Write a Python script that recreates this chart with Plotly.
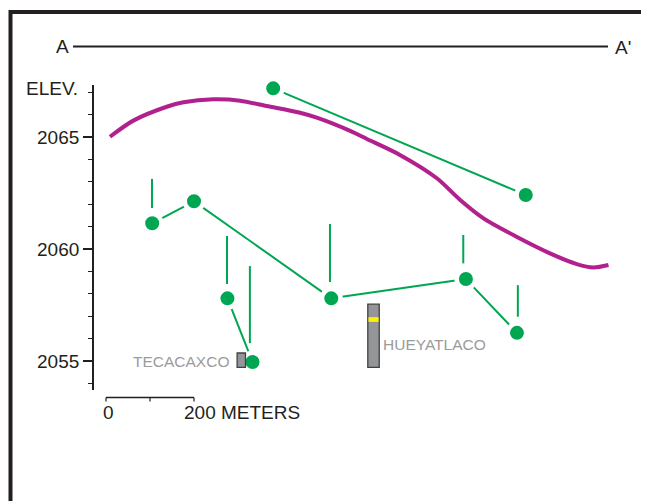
import plotly.graph_objects as go

# ---------------- data (distance along section in metres, elevation in m) -------------
site_dist = [105, 200, 276, 512, 333, 818, 934, 380, 954]
site_elev = [2061.15, 2062.13, 2057.80, 2057.80, 2054.96, 2058.66, 2056.26, 2067.17, 2062.41]
site_links = [(0, 1), (1, 3), (2, 4), (3, 5), (5, 6), (7, 8)]

range_dist = [104.5, 275, 327, 509, 812, 936]
range_top = [2063.13, 2060.58, 2059.24, 2061.12, 2060.63, 2058.39]
range_bottom = [2061.83, 2058.44, 2055.80, 2058.53, 2059.36, 2056.98]

profile_dist = [9, 62, 138, 176, 244, 305, 365, 441, 479, 555, 593, 668, 752, 805,
                858, 933, 1009, 1070, 1108, 1142]
profile_elev = [2065.01, 2065.73, 2066.35, 2066.55, 2066.68, 2066.62, 2066.38, 2066.08,
                2065.86, 2065.27, 2064.91, 2064.20, 2063.16, 2062.19, 2061.37, 2060.55,
                2059.81, 2059.33, 2059.18, 2059.29]

column_names = ["TECACAXCO", "HUEYATLACO"]
column_x0 = [298, 595]
column_x1 = [317, 621]
column_top = [2055.36, 2057.54]
column_bottom = [2054.72, 2054.72]
band_top = [None, 2056.96]
band_bottom = [None, 2056.75]

elev_ticks = [2055, 2060, 2065]
scale_ticks = [0, 100, 200]
scale_unit = "METERS"
section_labels = ["A", "A'"]
axis_title = "ELEV."

# ---------------- styling ----------------
W, H = 649, 501
OFF = 8  # page offset of the figure inside the browser window
PLOT_L, PLOT_R, PLOT_T, PLOT_B = 94, 645, 85, 390  # window pixels
ML, MR, MT, MB = PLOT_L - OFF, W - (PLOT_R - OFF), PLOT_T - OFF, H - (PLOT_B - OFF)
PX_PER_M = 0.44
X0_PX = 106
DARK = "#231F20"
GREEN = "#00A651"
MAGENTA = "#B2208D"
GRAY = "#939598"
LABEL_GRAY = "#9B9B9B"
FONT = "Liberation Sans, Arial, Helvetica, sans-serif"

plot_w = PLOT_R - PLOT_L
plot_h = PLOT_B - PLOT_T
x_range = [(PLOT_L - X0_PX) / PX_PER_M, (PLOT_R - X0_PX) / PX_PER_M]
y_range = [2053.71, 2067.32]


def pxx(p):
    return (p - PLOT_L) / plot_w


def pxy(p):
    return (PLOT_B - p) / plot_h


fig = go.Figure()

# profile curve
fig.add_trace(go.Scatter(x=profile_dist, y=profile_elev, mode="lines",
                         line=dict(color=MAGENTA, width=4, shape="spline", smoothing=0.8),
                         hoverinfo="skip", cliponaxis=False))

# vertical range lines
vx, vy = [], []
for xd, t, b in zip(range_dist, range_top, range_bottom):
    vx += [xd, xd, None]
    vy += [t, b, None]
fig.add_trace(go.Scatter(x=vx, y=vy, mode="lines", line=dict(color=GREEN, width=2),
                         hoverinfo="skip"))

# links between sites
lx, ly = [], []
for a, b in site_links:
    lx += [site_dist[a], site_dist[b], None]
    ly += [site_elev[a], site_elev[b], None]
fig.add_trace(go.Scatter(x=lx, y=ly, mode="lines", line=dict(color=GREEN, width=2),
                         hoverinfo="skip"))

# site markers with white halo (gap around lines)
fig.add_trace(go.Scatter(x=site_dist, y=site_elev, mode="markers",
                         marker=dict(color=GREEN, size=18.5,
                                     line=dict(color="white", width=4.5)),
                         hoverinfo="skip", cliponaxis=False))

shapes = []
annotations = []

# stratigraphic columns
for i, name in enumerate(column_names):
    shapes.append(dict(type="rect", xref="x", yref="y", layer="above",
                       x0=column_x0[i], x1=column_x1[i],
                       y0=column_bottom[i], y1=column_top[i],
                       fillcolor=GRAY, line=dict(color="#414042", width=1.3)))
    if band_top[i] is not None:
        shapes.append(dict(type="rect", xref="x", yref="y", layer="above",
                           x0=column_x0[i] + 1.5, x1=column_x1[i] - 1.5,
                           y0=band_bottom[i], y1=band_top[i],
                           fillcolor="#FFF200", line=dict(width=0)))
annotations.append(dict(x=column_x0[0], y=(column_top[0] + column_bottom[0]) / 2,
                        xref="x", yref="y", text=column_names[0], showarrow=False,
                        xanchor="right", yanchor="middle", xshift=-6, yshift=-1,
                        font=dict(family=FONT, size=15.5, color=LABEL_GRAY)))
annotations.append(dict(x=column_x1[1], y=(column_top[1] + column_bottom[1]) / 2,
                        xref="x", yref="y", text=column_names[1], showarrow=False,
                        xanchor="left", yanchor="middle", xshift=2, yshift=-9,
                        font=dict(family=FONT, size=15.5, color=LABEL_GRAY)))

# frame
shapes.append(dict(type="rect", xref="paper", yref="paper",
                   x0=pxx(10.5), x1=pxx(W + 40), y0=pxy(12), y1=pxy(H + 40),
                   line=dict(color=DARK, width=4), fillcolor="rgba(0,0,0,0)"))

# section line A - A'
shapes.append(dict(type="line", xref="paper", yref="paper",
                   x0=pxx(73), x1=pxx(608), y0=pxy(46.5), y1=pxy(46.5),
                   line=dict(color=DARK, width=1.8)))
annotations.append(dict(x=pxx(62), y=pxy(46), xref="paper", yref="paper",
                        text=section_labels[0], showarrow=False, xanchor="center",
                        yanchor="middle", font=dict(family=FONT, size=19, color=DARK)))
annotations.append(dict(x=pxx(613), y=pxy(47.5), xref="paper", yref="paper",
                        text=section_labels[1], showarrow=False, xanchor="left",
                        yanchor="middle", font=dict(family=FONT, size=19, color=DARK)))

# axis title
annotations.append(dict(x=pxx(80), y=pxy(88.5), xref="paper", yref="paper",
                        text=axis_title, showarrow=False, xanchor="right",
                        yanchor="middle", font=dict(family=FONT, size=19, color=DARK)))

# scale bar
bar_y = pxy(397.5)
tick_y = pxy(401.5)
shapes.append(dict(type="line", xref="x", yref="paper",
                   x0=scale_ticks[0], x1=scale_ticks[-1], y0=bar_y, y1=bar_y,
                   line=dict(color=DARK, width=1.5)))
for t in scale_ticks:
    shapes.append(dict(type="line", xref="x", yref="paper",
                       x0=t, x1=t, y0=bar_y, y1=tick_y,
                       line=dict(color=DARK, width=1.2)))
annotations.append(dict(x=scale_ticks[0], y=pxy(412), xref="x", yref="paper",
                        text=str(scale_ticks[0]), showarrow=False, xanchor="center",
                        yanchor="middle", xshift=2,
                        font=dict(family=FONT, size=19, color=DARK)))
annotations.append(dict(x=scale_ticks[-1], y=pxy(412), xref="x", yref="paper",
                        text=f"{scale_ticks[-1]} {scale_unit}", showarrow=False,
                        xanchor="left", yanchor="middle", xshift=-12,
                        font=dict(family=FONT, size=19, color=DARK)))

fig.update_layout(
    width=W, height=H,
    margin=dict(l=ML, r=MR, t=MT, b=MB, pad=0),
    paper_bgcolor="white", plot_bgcolor="white",
    showlegend=False,
    shapes=shapes, annotations=annotations,
    xaxis=dict(range=x_range, visible=False, fixedrange=True),
    yaxis=dict(range=y_range, tickmode="linear", tick0=elev_ticks[0], dtick=5,
               ticks="outside", ticklen=9, tickwidth=1.5, tickcolor=DARK,
               showline=True, linewidth=1.8, linecolor=DARK,
               showgrid=False, zeroline=False,
               tickfont=dict(family=FONT, size=19, color=DARK),
               minor=dict(ticks="outside", ticklen=4, tickwidth=1.3, tickcolor=DARK,
                          dtick=1, tick0=elev_ticks[0], showgrid=False),
               fixedrange=True),
)

fig.write_html("out.html")
